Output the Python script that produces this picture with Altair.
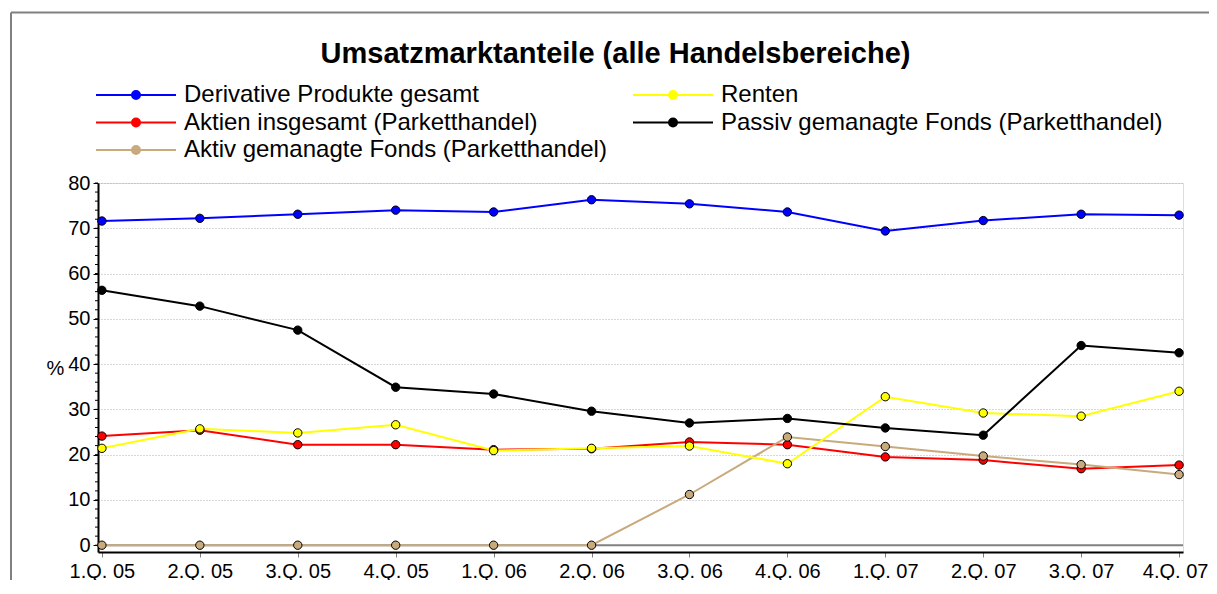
import altair as alt
import pandas as pd

quarters = ["1.Q. 05", "2.Q. 05", "3.Q. 05", "4.Q. 05", "1.Q. 06", "2.Q. 06",
            "3.Q. 06", "4.Q. 06", "1.Q. 07", "2.Q. 07", "3.Q. 07", "4.Q. 07"]
# legend is filled column by column: first column, then second column
series_names = ["Derivative Produkte gesamt",
                "Aktien insgesamt (Parketthandel)",
                "Aktiv gemanagte Fonds (Parketthandel)",
                "Renten",
                "Passiv gemanagte Fonds (Parketthandel)"]
series_colors = ["#0000FF", "#FF0000", "#C8AA7D", "#FFFF00", "#000000"]

derivative = [71.6, 72.2, 73.1, 74.0, 73.6, 76.3, 75.4, 73.6, 69.4, 71.7, 73.1, 72.9]
aktien = [24.1, 25.4, 22.2, 22.2, 21.1, 21.3, 22.8, 22.2, 19.5, 18.8, 16.9, 17.7]
aktiv = [0, 0, 0, 0, 0, 0, 11.2, 23.9, 21.8, 19.7, 17.8, 15.6]
renten = [21.4, 25.7, 24.8, 26.6, 20.9, 21.4, 21.9, 18.0, 32.8, 29.2, 28.5, 34.0]
passiv = [56.3, 52.8, 47.5, 34.9, 33.4, 29.6, 27.0, 28.0, 25.9, 24.3, 44.1, 42.5]

y_ticks = [0, 10, 20, 30, 40, 50, 60, 70, 80]
minor_ticks = [0, 2, 4, 6, 8, 10, 12, 14, 16, 18, 20, 22, 24, 26, 28, 30, 32, 34, 36, 38,
               40, 42, 44, 46, 48, 50, 52, 54, 56, 58, 60, 62, 64, 66, 68, 70, 72, 74, 76, 78, 80]

all_series = [derivative, aktien, aktiv, renten, passiv]
rows = []
for name, vals in zip(series_names, all_series):
    for q, v in zip(quarters, vals):
        rows.append({"quarter": q, "series": name, "value": v})
df = pd.DataFrame(rows)

FONT = "Liberation Sans"

last_q = quarters[-1]
x_enc = alt.X("quarter:N", sort=quarters,
              scale=alt.Scale(type="point", padding=0.04),
              axis=alt.Axis(title=None, labelAngle=0, labelFontSize=20, labelColor="black",
                            labelPadding=4, domainColor="black", domainWidth=2,
                            labelOffset={"condition": {"test": f"datum.value === '{last_q}'",
                                                       "value": -4}, "value": 0},
                            tickColor="#808080", tickSize=5, grid=False, labelFont=FONT))
y_scale = alt.Scale(domain=[-1.5, 80], nice=False, zero=False)
y_enc = alt.Y("value:Q", scale=y_scale,
              axis=alt.Axis(values=y_ticks, labelFontSize=20, labelColor="black", labelFont=FONT,
                            labelPadding=3, domainColor="black", domainWidth=2,
                            tickColor="black", tickSize=5, gridColor="#b0b0b0",
                            gridDash=[1, 2], title="%", titleAngle=0, titleX=-43, titleY=185,
                            titleAlign="center", titleBaseline="middle", titleFontSize=20,
                            titleFontWeight="normal", titleFont=FONT, titleColor="black"))

legend_path = "M-8,0H8M-0.8,0A0.8,0.8,0,1,1,0.8,0A0.8,0.8,0,1,1,-0.8,0Z"
color_enc = alt.Color("series:N",
                      scale=alt.Scale(domain=series_names, range=series_colors),
                      legend=alt.Legend(title=None, orient="none", legendX=26, legendY=-100,
                                        columns=2, symbolType=legend_path, symbolSize=100,
                                        symbolStrokeWidth=2, labelFontSize=24, labelFont=FONT,
                                        labelColor="black", labelLimit=800, labelOffset=36,
                                        rowPadding=3.5, columnPadding=22))

base = alt.Chart(df)

zero_line = alt.Chart(pd.DataFrame({"value": [0]})).mark_rule(
    color="#808080", strokeWidth=2).encode(y=alt.Y("value:Q", scale=y_scale))

minor = alt.Chart(pd.DataFrame({"value": minor_ticks})).mark_rule(
    color="black", strokeWidth=1).encode(
    y=alt.Y("value:Q", scale=y_scale), x=alt.value(-3), x2=alt.value(0))

lines = base.mark_line(strokeWidth=2).encode(x=x_enc, y=y_enc, color=color_enc)
points = base.mark_point(filled=True, size=70, stroke="black", strokeWidth=1,
                         opacity=1).encode(x=x_enc, y=y_enc, color=color_enc)

frame_data = pd.DataFrame({"a": [0]})
frame_top = alt.Chart(frame_data).mark_rule(color="#808080", strokeWidth=2).encode(
    x=alt.value(-87), x2=alt.value(1111), y=alt.value(-170.5))
frame_left = alt.Chart(frame_data).mark_rule(color="#808080", strokeWidth=2).encode(
    x=alt.value(-87), y=alt.value(-170.5), y2=alt.value(400))

chart = alt.layer(frame_top, frame_left, zero_line, minor, lines, points).properties(
    width=1085, height=369,
    title=alt.TitleParams("Umsatzmarktanteile (alle Handelsbereiche)", fontSize=29,
                          fontWeight="bold", font=FONT, anchor="middle", dx=-25, dy=61,
                          color="black"),
    autosize=alt.AutoSizeParams(type="none"),
    padding={"left": 90, "top": 175, "right": 26, "bottom": 28},
).configure_view(stroke=None).configure(background="white")

chart.save("out.html", embed_options={"renderer": "svg", "actions": False})
